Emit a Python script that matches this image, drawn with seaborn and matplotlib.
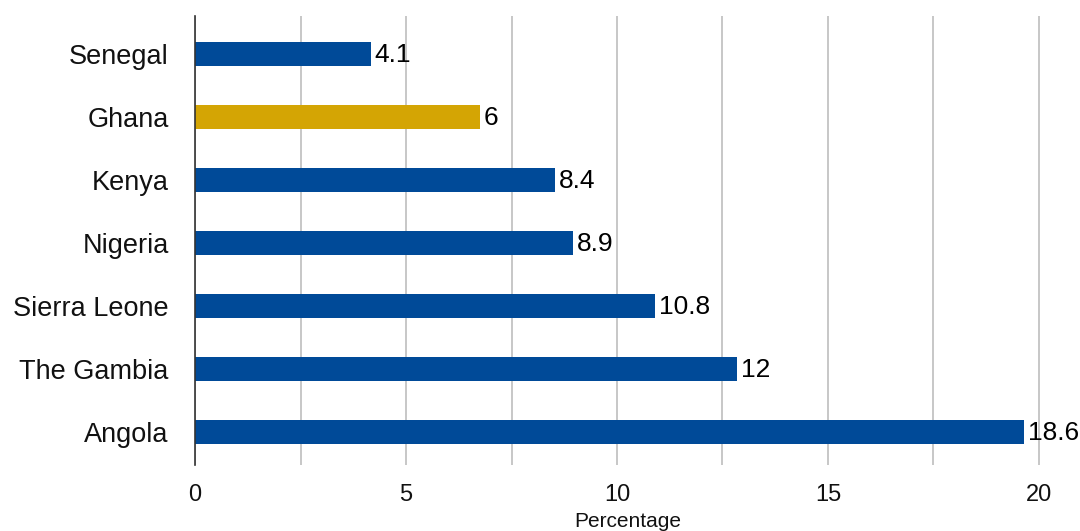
import numpy as np
import pandas as pd
import matplotlib
matplotlib.use('Agg')
import matplotlib.pyplot as plt
import seaborn as sns

sns.set_style('white')
plt.rcParams['font.family'] = ['Liberation Sans', 'DejaVu Sans']

countries  = ['Senegal', 'Ghana', 'Kenya', 'Nigeria', 'Sierra Leone', 'The Gambia', 'Angola']
bar_values = [4.16, 6.75, 8.53, 8.95, 10.9, 12.85, 19.64]   # bar lengths as drawn
labels     = ['4.1', '6', '8.4', '8.9', '10.8', '12', '18.6']  # printed labels
highlight  = ['other', 'Ghana', 'other', 'other', 'other', 'other', 'other']

df = pd.DataFrame({'country': countries, 'value': bar_values, 'group': highlight})

fig = plt.figure(figsize=(10.8, 5.31), dpi=100)
ax = fig.add_axes([0.1806, 0.1243, 0.8009, 0.8456])

sns.barplot(data=df, x='value', y='country', hue='group', orient='h',
            palette={'other': '#004A98', 'Ghana': '#D4A504'}, saturation=1,
            width=0.38, dodge=False, legend=False, linewidth=0, ax=ax, zorder=3)

# value labels (printed text differs slightly from drawn length)
for bar in ax.patches:
    w = bar.get_width()
    if w <= 0:
        continue
    yc = bar.get_y() + bar.get_height() / 2
    i = int(round(yc))
    ax.annotate(labels[i], xy=(w, yc), xytext=(3, -1), textcoords='offset points',
                va='center', ha='left', fontsize=19, color='black', zorder=4)

ax.set_xlim(0, 20.5)
ax.set_ylim(6.524, -0.603)
ax.set_xticks([0, 5, 10, 15, 20])
ax.set_xticks([2.5, 7.5, 12.5, 17.5], minor=True)
ax.grid(axis='x', which='both', color='#BDBDBD', linewidth=1.2, zorder=0)
ax.set_axisbelow(True)
for s in ['top', 'right', 'bottom']:
    ax.spines[s].set_visible(False)
ax.spines['left'].set_color('#333333')
ax.spines['left'].set_linewidth(1.2)
ax.spines['left'].set_zorder(5)

ax.tick_params(axis='x', which='both', length=0, pad=14, labelsize=17, labelcolor='#111111')
ax.tick_params(axis='y', length=0, pad=19, labelsize=19.5, labelcolor='#111111')
ax.set_ylabel('')
ax.set_xlabel('Percentage', fontsize=15, labelpad=4, color='#111111')

fig.savefig('out.png', dpi=100)
